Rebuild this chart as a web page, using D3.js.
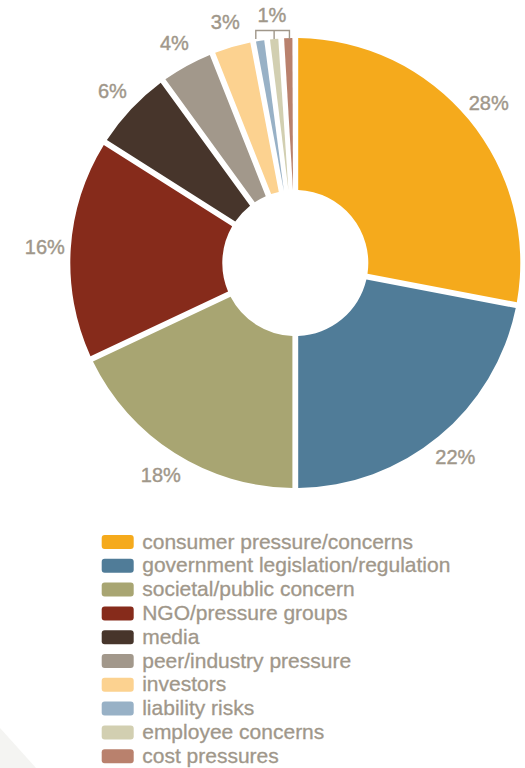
<!DOCTYPE html>
<html>
<head>
<meta charset="utf-8">
<script src="https://cdn.jsdelivr.net/npm/d3@7"></script>
<style>
  html, body { margin: 0; padding: 0; background: #ffffff; }
  svg { display: block; }
  text { font-family: "Liberation Sans", Arial, Helvetica, sans-serif; }
</style>
</head>
<body>
<svg id="chart" width="525" height="768"></svg>
<script>
// Drivers of action, share of responses (%)
const categories = [
  "consumer pressure/concerns",
  "government legislation/regulation",
  "societal/public concern",
  "NGO/pressure groups",
  "media",
  "peer/industry pressure",
  "investors",
  "liability risks",
  "employee concerns",
  "cost pressures"
];
const values = [28, 22, 18, 16, 6, 4, 3, 1, 1, 1];
const colors = [
  "#F5AA1C", "#507C98", "#A8A572", "#862B1B", "#47352B",
  "#A2988B", "#FCD290", "#98B1C6", "#D2CFB1", "#B9816D"
];

const W = 525, H = 768;
const cx = 295.3, cy = 263;
const rOuter = 225, rInner = 73, rLabel = 251;
const textColor = "#A0978A";

const svg = d3.select("#chart");

// faint corner shape at the bottom left
svg.append("path")
  .attr("d", `M0,${H - 40} L36,${H} L0,${H} Z`)
  .attr("fill", "#F4F4F2");

const data = categories.map((c, i) => ({ name: c, value: values[i], color: colors[i] }));

const pie = d3.pie().sort(null).value(d => d.value);
const arcs = pie(data);

const arc = d3.arc()
  .innerRadius(rInner)
  .outerRadius(rOuter)
  .padAngle(0.058)
  .padRadius(100);

const g = svg.append("g").attr("transform", `translate(${cx},${cy})`);

g.selectAll("path.slice")
  .data(arcs)
  .join("path")
  .attr("class", "slice")
  .attr("d", arc)
  .attr("fill", d => d.data.color);

// value labels for the larger slices
const labelArc = d3.arc().innerRadius(rLabel).outerRadius(rLabel);
const big = arcs.filter(d => d.data.value > 1);
g.selectAll("text.pct")
  .data(big)
  .join("text")
  .attr("class", "pct")
  .attr("transform", d => `translate(${labelArc.centroid(d)})`)
  .attr("dy", "0.36em")
  .attr("text-anchor", "middle")
  .attr("font-size", 20)
  .attr("fill", textColor)
  .attr("stroke", textColor)
  .attr("stroke-width", 0.4)
  .text(d => d.data.value + "%");

// bracket joining the three smallest slices under one label
const small = arcs.filter(d => d.data.value === 1);
const polar = (a, r) => [r * Math.sin(a), -r * Math.cos(a)];
const bracketY = -(rOuter + 7.5);
const tickBottom = -(rOuter - 1);
const first = small[0], mid = small[1], last = small[small.length - 1];
const xs = [
  polar(first.startAngle + 0.012, rOuter)[0],
  polar((mid.startAngle + mid.endAngle) / 2, rOuter)[0],
  polar(last.endAngle - 0.026, rOuter)[0]
];
const bracket = g.append("g")
  .attr("fill", "none")
  .attr("stroke", textColor)
  .attr("stroke-width", 1.4);
bracket.append("path")
  .attr("d", `M${xs[0]},${tickBottom} V${bracketY} H${xs[2]} V${tickBottom}`);
bracket.append("path")
  .attr("d", `M${xs[1]},${bracketY} V${tickBottom}`);

const midAngle = (first.startAngle + last.endAngle) / 2;
const lp = polar(midAngle, rLabel - 2);
g.append("text")
  .attr("x", lp[0])
  .attr("y", lp[1])
  .attr("dy", "0.36em")
  .attr("text-anchor", "middle")
  .attr("font-size", 20)
  .attr("fill", textColor)
  .attr("stroke", textColor)
  .attr("stroke-width", 0.4)
  .text(small[0].data.value + "%");

// legend
const legend = svg.append("g").attr("transform", "translate(101.7,535)");
const rowH = 23.8;
const rows = legend.selectAll("g.row")
  .data(data)
  .join("g")
  .attr("class", "row")
  .attr("transform", (d, i) => `translate(0,${i * rowH})`);
rows.append("rect")
  .attr("width", 32)
  .attr("height", 14)
  .attr("rx", 3)
  .attr("fill", d => d.color);
rows.append("text")
  .attr("x", 40.5)
  .attr("y", 13.5)
  .attr("font-size", 21)
  .attr("fill", textColor)
  .attr("stroke", textColor)
  .attr("stroke-width", 0.3)
  .text(d => d.name);
</script>
</body>
</html>
